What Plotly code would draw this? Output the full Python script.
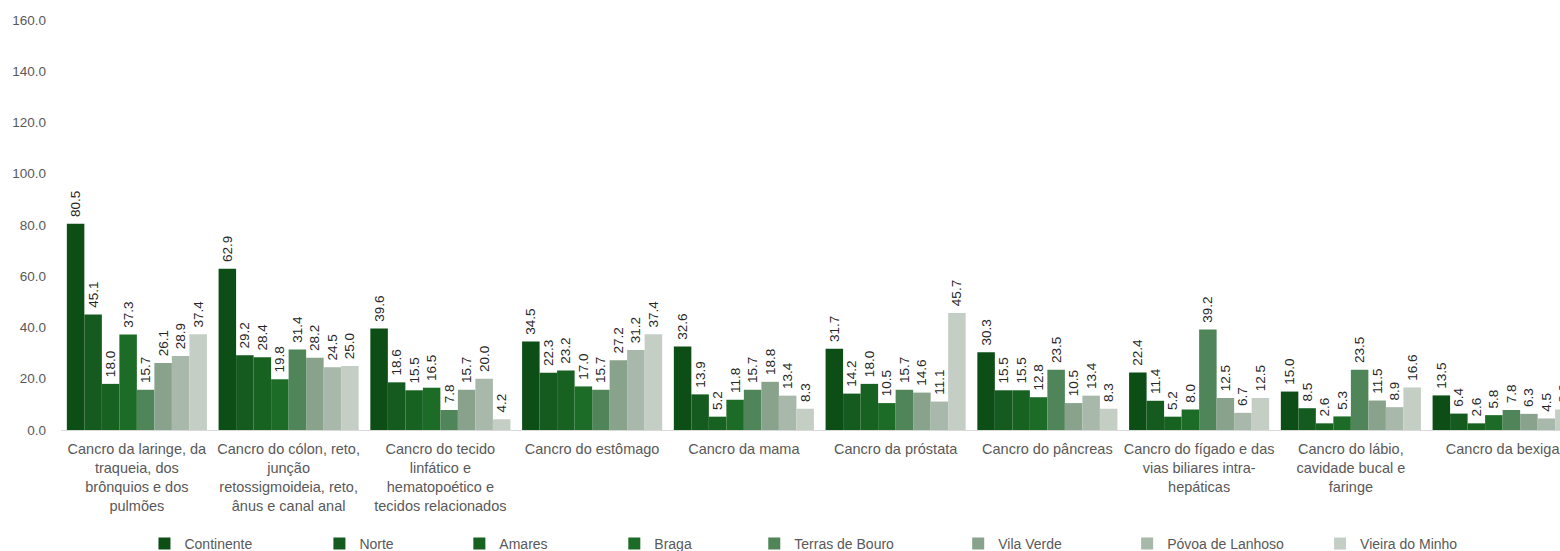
import plotly.graph_objects as go

categories = [
    "Cancro da laringe, da<br>traqueia, dos<br>brônquios e dos<br>pulmões",
    "Cancro do cólon, reto,<br>junção<br>retossigmoideia, reto,<br>ânus e canal anal",
    "Cancro do tecido<br>linfático e<br>hematopoético e<br>tecidos relacionados",
    "Cancro do estômago",
    "Cancro da mama",
    "Cancro da próstata",
    "Cancro do pâncreas",
    "Cancro do fígado e das<br>vias biliares intra-<br>hepáticas",
    "Cancro do lábio,<br>cavidade bucal e<br>faringe",
    "Cancro da bexiga",
]

series_names = ["Continente", "Norte", "Amares", "Braga", "Terras de Bouro",
                "Vila Verde", "Póvoa de Lanhoso", "Vieira do Minho"]

continente = [80.5, 62.9, 39.6, 34.5, 32.6, 31.7, 30.3, 22.4, 15.0, 13.5]
norte = [45.1, 29.2, 18.6, 22.3, 13.9, 14.2, 15.5, 11.4, 8.5, 6.4]
amares = [18.0, 28.4, 15.5, 23.2, 5.2, 18.0, 15.5, 5.2, 2.6, 2.6]
braga = [37.3, 19.8, 16.5, 17.0, 11.8, 10.5, 12.8, 8.0, 5.3, 5.8]
terras_de_bouro = [15.7, 31.4, 7.8, 15.7, 15.7, 15.7, 23.5, 39.2, 23.5, 7.8]
vila_verde = [26.1, 28.2, 15.7, 27.2, 18.8, 14.6, 10.5, 12.5, 11.5, 6.3]
povoa_de_lanhoso = [28.9, 24.5, 20.0, 31.2, 13.4, 11.1, 13.4, 6.7, 8.9, 4.5]
vieira_do_minho = [37.4, 25.0, 4.2, 37.4, 8.3, 45.7, 8.3, 12.5, 16.6, 8.0]

series_values = [continente, norte, amares, braga, terras_de_bouro,
                 vila_verde, povoa_de_lanhoso, vieira_do_minho]

colors = ["#0D4E17", "#155A1F", "#176121", "#1C6C27",
          "#4F8559", "#88A28C", "#A8B8AA", "#C4CEC5"]

y_ticks = [0, 20, 40, 60, 80, 100, 120, 140, 160]

# layout geometry
W, H = 1560, 551
ML, MT, MB, MR = 60.5, 20, 121, 0
plot_w = W - ML - MR
cat_pitch = 151.8
x_end = -0.5 + plot_w / cat_pitch

legend_text_px = [177, 352, 492, 647, 787, 991, 1160, 1353]

fig = go.Figure()
x_idx = list(range(len(categories)))
for i, (name, vals) in enumerate(zip(series_names, series_values)):
    lname = "legend" if i == 0 else f"legend{i+1}"
    fig.add_trace(go.Bar(
        x=x_idx, y=vals, name=name,
        marker=dict(color=colors[i], line=dict(width=0)),
        text=[f"\u00a0{v:.1f}" for v in vals],
        textposition="outside", textangle=-90,
        constraintext="none",
        textfont=dict(family="Liberation Sans, Arial, sans-serif", size=13.5, color="#262626"),
        legend=lname,
        hoverinfo="x+y+name",
    ))

layout_kwargs = {}
for i in range(len(series_names)):
    lname = "legend" if i == 0 else f"legend{i+1}"
    px = legend_text_px[i] - 33
    layout_kwargs[lname] = dict(
        x=(px - ML) / plot_w, y=(430 - 544) / (H - MT - MB),
        xanchor="left", yanchor="middle", orientation="h",
        font=dict(family="Liberation Sans, Arial, sans-serif", size=14, color="#595959"),
        bgcolor="rgba(0,0,0,0)", borderwidth=0,
    )

fig.update_layout(
    width=W, height=H,
    margin=dict(l=ML, r=MR, t=MT, b=MB, autoexpand=False),
    paper_bgcolor="white", plot_bgcolor="white",
    barmode="group", bargap=0.077, bargroupgap=0,
    showlegend=True,
    xaxis=dict(
        tickmode="array", tickvals=x_idx, ticktext=categories,
        range=[-0.5, x_end],
        showgrid=False, zeroline=False,
        showline=True, linecolor="#D9D9D9", linewidth=1,
        ticks="", ticklabelstandoff=6, ticklabeloverflow="allow",
        tickfont=dict(family="Liberation Sans, Arial, sans-serif", size=14.5, color="#595959"),
        fixedrange=True,
    ),
    yaxis=dict(
        range=[0, 160], tickvals=y_ticks,
        ticktext=[f"{v:.1f}" for v in y_ticks],
        showgrid=False, zeroline=False, showline=False,
        ticks="", ticklabelstandoff=14,
        tickfont=dict(family="Liberation Sans, Arial, sans-serif", size=13.5, color="#595959"),
        fixedrange=True,
    ),
    **layout_kwargs,
)

fig.write_html(
    "out.html",
    config={"displayModeBar": False},
    post_script="document.body.style.margin='0';document.body.style.overflow='hidden';",
)
